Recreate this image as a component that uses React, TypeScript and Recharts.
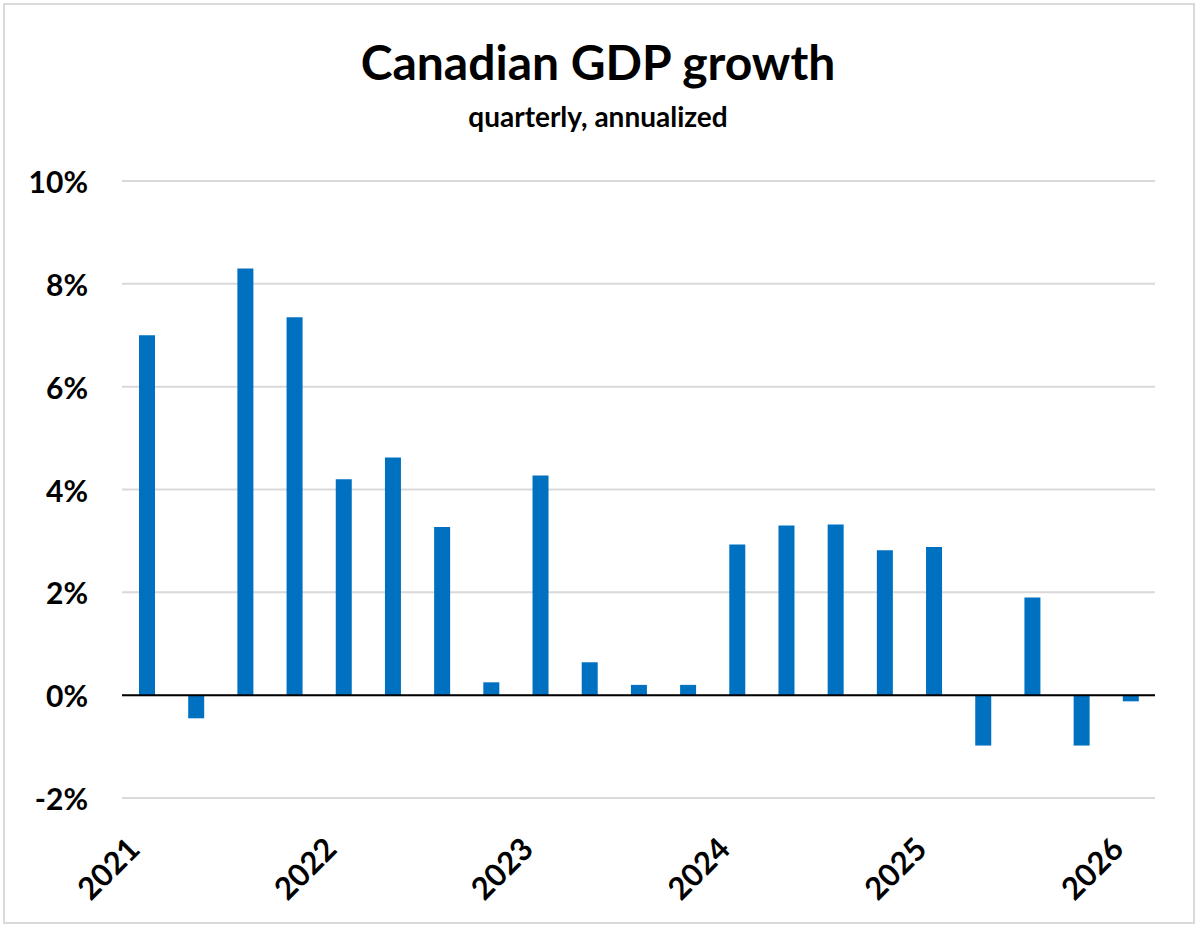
import { BarChart, Bar, XAxis, YAxis, CartesianGrid, ReferenceLine } from 'recharts';

const QUARTERS = [
  '2021', '2021Q2', '2021Q3', '2021Q4',
  '2022', '2022Q2', '2022Q3', '2022Q4',
  '2023', '2023Q2', '2023Q3', '2023Q4',
  '2024', '2024Q2', '2024Q3', '2024Q4',
  '2025', '2025Q2', '2025Q3', '2025Q4',
  '2026',
];

const GROWTH = [
  7.0, -0.45, 8.3, 7.35,
  4.2, 4.62, 3.27, 0.25,
  4.27, 0.64, 0.2, 0.2,
  2.93, 3.3, 3.32, 2.82,
  2.88, -0.98, 1.9, -0.98,
  -0.12,
];

const Y_TICKS = [-2, 0, 2, 4, 6, 8, 10];

const FONT = 'Lato, "Open Sans", sans-serif';

const data = QUARTERS.map((q, i) => ({ q, growth: GROWTH[i] }));

// only the first quarter of each year gets a label
function YearTick({ x, y, payload }: any) {
  if (!/^\d{4}$/.test(payload.value)) return null;
  return (
    <g transform={`translate(${x - 5},${y + 45}) rotate(-45)`}>
      <text x={0} y={0} textAnchor="end" fontSize={31} fontWeight={700} fill="#000" fontFamily={FONT}>
        {payload.value}
      </text>
    </g>
  );
}

function PctTick({ x, y, payload }: any) {
  return (
    <text x={x - 26} y={y} textAnchor="end" dominantBaseline="central" fontSize={30} fontWeight={700} fill="#000" fontFamily={FONT}>
      {payload.value}%
    </text>
  );
}

export default function App() {
  return (
    <div style={{ position: 'absolute', left: 0, top: 0, width: 1200, height: 932, background: '#fff', fontFamily: FONT }}>
      <div style={{ position: 'absolute', left: 3, top: 3, width: 1192, height: 921, border: '2px solid #d9d9d9', boxSizing: 'border-box' }} />
      <div style={{ position: 'absolute', left: 0, top: 34, width: 1196, textAlign: 'center', fontSize: 48, fontWeight: 700, lineHeight: '56px' }}>
        Canadian GDP growth
      </div>
      <div style={{ position: 'absolute', left: 0, top: 99, width: 1196, textAlign: 'center', fontSize: 28, fontWeight: 700, lineHeight: '34px' }}>
        quarterly, annualized
      </div>
      <BarChart
        width={1200}
        height={932}
        data={data}
        margin={{ top: 181, right: 45, left: 0, bottom: 0 }}
        barSize={16}
        style={{ position: 'absolute', left: 0, top: 0 }}
      >
        <CartesianGrid vertical={false} stroke="#d9d9d9" strokeWidth={2} />
        <XAxis
          dataKey="q"
          height={134}
          interval={0}
          axisLine={false}
          tickLine={false}
          tick={<YearTick />}
        />
        <YAxis
          width={122}
          domain={[-2, 10]}
          ticks={Y_TICKS}
          axisLine={false}
          tickLine={false}
          tick={<PctTick />}
        />
        <Bar dataKey="growth" fill="#0070C0" isAnimationActive={false} />
        <ReferenceLine y={0} stroke="#000" strokeWidth={2} />
      </BarChart>
    </div>
  );
}
